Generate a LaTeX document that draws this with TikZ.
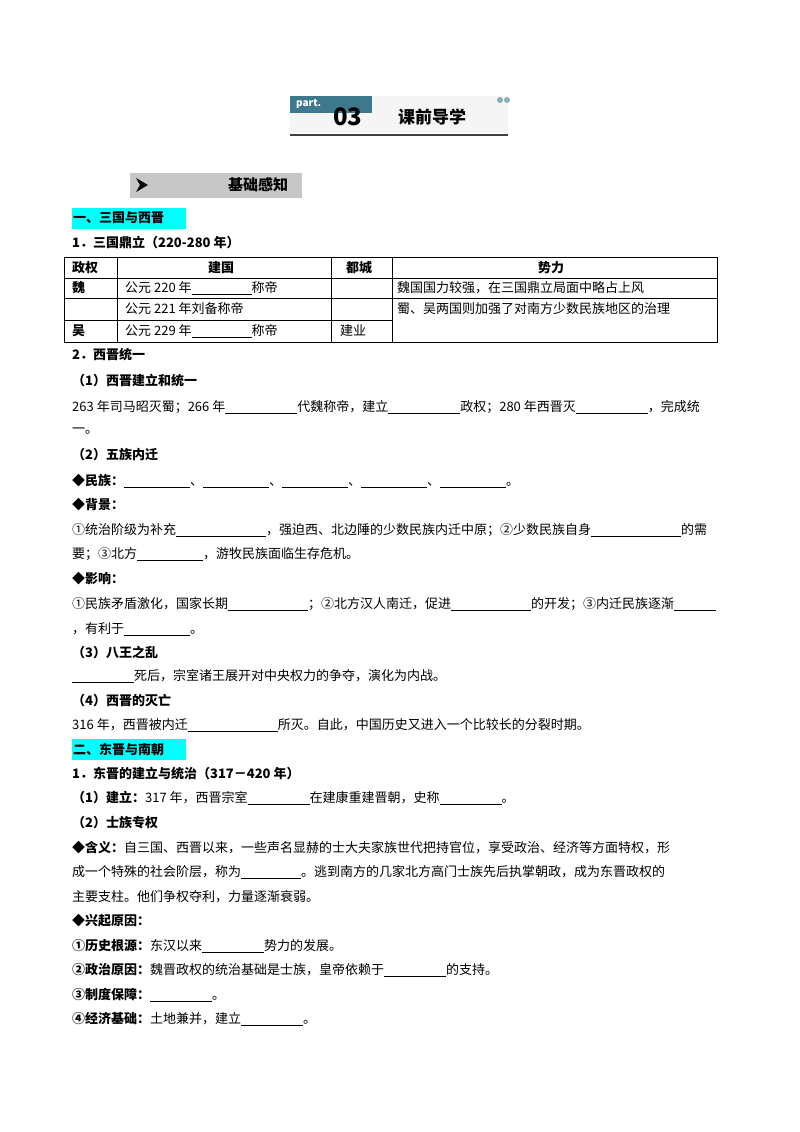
\documentclass[tikz,border=0pt]{standalone}
\usepackage{fontspec}
\setmainfont{Noto Sans CJK SC}
\definecolor{teal}{RGB}{62,120,140}
\definecolor{hl}{RGB}{0,255,255}
\newcommand{\bl}[1][42pt]{\underline{\hspace{#1}}}
\tikzset{
  txt/.style={anchor=west, inner sep=0pt, font=\fontsize{13}{16}\selectfont},
  hd/.style={txt, font=\fontsize{13}{16}\selectfont\bfseries},
  cell/.style={txt}
}
\begin{document}
\begin{tikzpicture}[x=1pt,y=-1pt]
	\useasboundingbox (0,0) rectangle (800,1132);
	% header
	\fill[black!4] (290,96) rectangle (508,133);
	\fill[teal] (290,96) rectangle (372,113);
	\draw[line width=2pt, black!75] (290,135)--(508,135);
	\node[txt, white, font=\bfseries\fontsize{10}{12}\selectfont] (part) at (296,104) {part.};
	\node[txt, font=\bfseries\fontsize{24}{26}\selectfont] (num) at (333,117) {03};
	\node[txt, font=\bfseries\fontsize{17}{20}\selectfont] (title) at (398,117) {课前导学};
	\fill[teal!60] (500,100) circle (3);
	\fill[teal!60] (507,100) circle (3);
	% section bar
	\fill[black!22] (130,173) rectangle (302,198);
	\fill (136,178)--(148,185)--(136,192)--(140,185)--cycle;
	\node[txt, font=\bfseries\fontsize{15}{18}\selectfont] (jc) at (228,185) {基础感知};
	% part one
	\fill[hl] (72,208) rectangle (186,229);
	\node[hd] (s1) at (73,218) {一、三国与西晋};
	\node[hd] (s11) at (72,243) {1．三国鼎立（220-280 年）};
	\draw (64,257) rectangle (717,342);
	\draw (64,278)--(717,278) (64,298)--(717,298) (64,320)--(392,320);
	\draw (117,257)--(117,342) (331,257)--(331,342) (392,257)--(392,342);
	\node[hd] (c1) at (72,268) {政权};
	\node[hd] (c2) at (208,268) {建国};
	\node[hd] (c3) at (346,268) {都城};
	\node[hd] (c4) at (538,268) {势力};
	\node[hd] (wei) at (72,288) {魏};
	\node[cell] (w2) at (125,288) {公元 220 年\bl[60pt]称帝};
	\node[cell] (w4) at (397,288) {魏国国力较强，在三国鼎立局面中略占上风};
	\node[cell] (s2) at (125,309) {公元 221 年刘备称帝};
	\node[cell] (s4) at (397,309) {蜀、吴两国则加强了对南方少数民族地区的治理};
	\node[hd] (wu) at (72,331) {吴};
	\node[cell] (u2) at (125,331) {公元 229 年\bl[60pt]称帝};
	\node[cell] (u3) at (340,331) {建业};
	% western jin
	\node[hd] (t2) at (72,355) {2．西晋统一};
	\node[hd] (p1) at (72,381) {（1）西晋建立和统一};
	\node[txt] (l1) at (72,407) {263 年司马昭灭蜀；266 年\bl[72pt]代魏称帝，建立\bl[72pt]政权；280 年西晋灭\bl[72pt]，完成统};
	\node[txt] (l2) at (72,431) {一。};
	\node[hd] (p2) at (72,455) {（2）五族内迁};
	\node[txt] (l3) at (72,481) {\textbf{◆民族：}\bl[66pt]、\bl[66pt]、\bl[66pt]、\bl[66pt]、\bl[66pt]。};
	\node[hd] (l4) at (72,505) {◆背景：};
	\node[txt] (l5) at (72,530) {①统治阶级为补充\bl[90pt]，强迫西、北边陲的少数民族内迁中原；②少数民族自身\bl[90pt]的需};
	\node[txt] (l6) at (72,554) {要；③北方\bl[66pt]，游牧民族面临生存危机。};
	\node[hd] (l7) at (72,579) {◆影响：};
	\node[txt] (l8) at (72,604) {①民族矛盾激化，国家长期\bl[80pt]；②北方汉人南迁，促进\bl[80pt]的开发；③内迁民族逐渐\bl[42pt]};
	\node[txt] (l9) at (72,629) {，有利于\bl[66pt]。};
	\node[hd] (p3) at (72,652) {（3）八王之乱};
	\node[txt] (l10) at (72,676) {\bl[62pt]死后，宗室诸王展开对中央权力的争夺，演化为内战。};
	\node[hd] (p4) at (72,701) {（4）西晋的灭亡};
	\node[txt] (l11) at (72,725) {316 年，西晋被内迁\bl[90pt]所灭。自此，中国历史又进入一个比较长的分裂时期。};
	% part two
	\fill[hl] (72,739) rectangle (186,760);
	\node[hd] (s2h) at (73,749) {二、东晋与南朝};
	\node[hd] (s21) at (72,774) {1．东晋的建立与统治（317－420 年）};
	\node[txt] (m1) at (72,798) {\textbf{（1）建立：}317 年，西晋宗室\bl[62pt]在建康重建晋朝，史称\bl[62pt]。};
	\node[hd] (m2) at (72,823) {（2）士族专权};
	\node[txt] (m3) at (72,848) {\textbf{◆含义：}自三国、西晋以来，一些声名显赫的士大夫家族世代把持官位，享受政治、经济等方面特权，形};
	\node[txt] (m4) at (72,872) {成一个特殊的社会阶层，称为\bl[60pt]。逃到南方的几家北方高门士族先后执掌朝政，成为东晋政权的};
	\node[txt] (m5) at (72,897) {主要支柱。他们争权夺利，力量逐渐衰弱。};
	\node[hd] (m6) at (72,921) {◆兴起原因：};
	\node[txt] (m7) at (72,946) {\textbf{①历史根源：}东汉以来\bl[62pt]势力的发展。};
	\node[txt] (m8) at (72,970) {\textbf{②政治原因：}魏晋政权的统治基础是士族，皇帝依赖于\bl[62pt]的支持。};
	\node[txt] (m9) at (72,995) {\textbf{③制度保障：}\bl[62pt]。};
	\node[txt] (m10) at (72,1019) {\textbf{④经济基础：}土地兼并，建立\bl[62pt]。};
\end{tikzpicture}
\end{document}
